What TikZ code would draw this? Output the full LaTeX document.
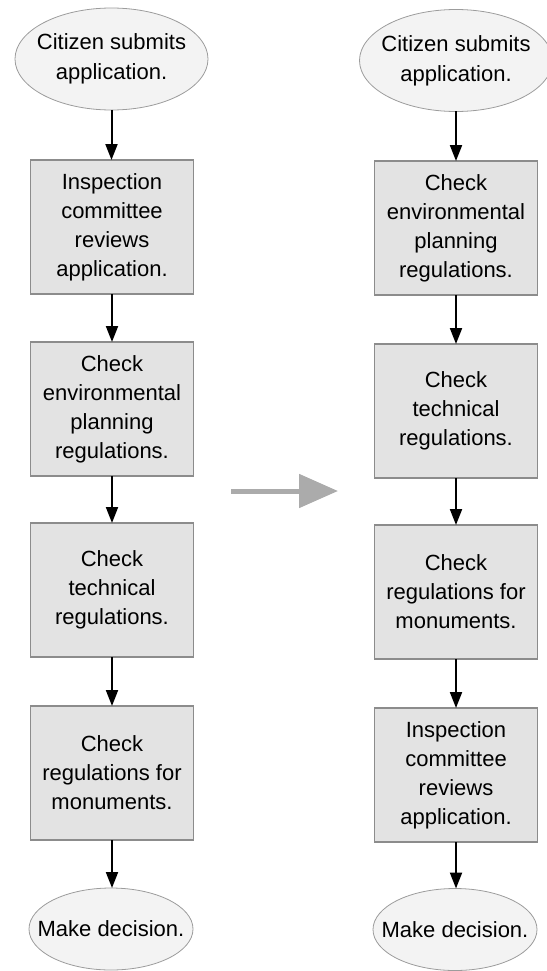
\documentclass[tikz,border=0pt]{standalone}
\usepackage{fontspec}
\setmainfont{Liberation Sans}
\usetikzlibrary{shapes.geometric,arrows.meta}
\definecolor{boxfill}{HTML}{E3E3E3}
\definecolor{boxline}{HTML}{8C8C8C}
\definecolor{ellfill}{HTML}{F3F3F3}
\definecolor{ellline}{HTML}{9C9C9C}
\definecolor{bigarrow}{HTML}{ABABAB}
\begin{document}
\begin{tikzpicture}[x=1pt,y=-1pt,
  every node/.style={font=\fontsize{22}{29}\selectfont, inner sep=0pt, outer sep=0pt},
  stepbox/.style={rectangle, draw=boxline, fill=boxfill, line width=1.2pt,
    minimum width=163pt, minimum height=134pt, align=center},
  startell/.style={ellipse, draw=ellline, fill=ellfill, line width=0.8pt,
    minimum width=193pt, minimum height=102pt},
  endell/.style={ellipse, draw=ellline, fill=ellfill, line width=0.8pt,
    minimum width=164pt, minimum height=82pt},
  flow/.style={-{Triangle[length=16pt,width=12pt]}, line width=2pt, black},
  graylink/.style={-{Triangle[length=39pt,width=33pt]}, line width=5pt, bigarrow}]
\useasboundingbox (0,0) rectangle (546,971);

% ---------- left column ----------
\node[startell, label={[align=center, font=\fontsize{22}{30}\selectfont]center:Citizen submits\\application.}] (ls) at (111.5,59) {};
\node[stepbox] (l1) at (112,227) {Inspection\\committee\\reviews\\application.};
\node[stepbox] (l2) at (112,409) {Check\\environmental\\planning\\regulations.};
\node[stepbox] (l3) at (112,590) {Check\\technical\\regulations.};
\node[stepbox] (l4) at (112,773) {Check\\regulations for\\monuments.};
\node[endell, label={center:Make decision.}] (le) at (111,929) {};

\draw[flow] (ls.south) -- (ls.south |- l1.north);
\draw[flow] (l1) -- (l2);
\draw[flow] (l2) -- (l3);
\draw[flow] (l3) -- (l4);
\draw[flow] (l4.south) -- (l4.south |- le.north);

% ---------- right column ----------
\node[startell, label={[align=center, font=\fontsize{22}{30}\selectfont]center:Citizen submits\\application.}] (rs) at (456,60.5) {};
\node[stepbox] (r1) at (456,228) {Check\\environmental\\planning\\regulations.};
\node[stepbox] (r2) at (456,411) {Check\\technical\\regulations.};
\node[stepbox] (r3) at (456,592) {Check\\regulations for\\monuments.};
\node[stepbox] (r4) at (456,775) {Inspection\\committee\\reviews\\application.};
\node[endell, label={center:Make decision.}] (re) at (455,929.5) {};

\draw[flow] (rs.south) -- (rs.south |- r1.north);
\draw[flow] (r1) -- (r2);
\draw[flow] (r2) -- (r3);
\draw[flow] (r3) -- (r4);
\draw[flow] (r4.south) -- (r4.south |- re.north);

% ---------- transition arrow ----------
\coordinate (ga) at (231,491);
\coordinate (gb) at (338,491);
\draw[graylink] (ga) -- (gb);
\end{tikzpicture}
\end{document}
